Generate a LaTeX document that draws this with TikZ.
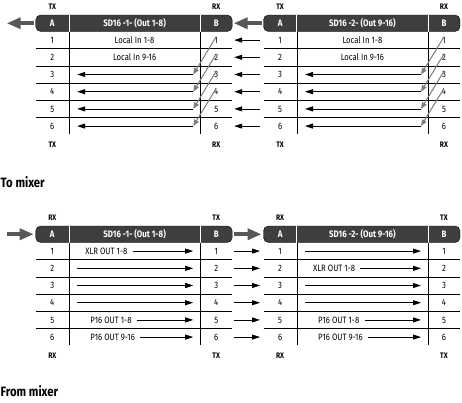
\documentclass[tikz,border=0pt]{standalone}
\usepackage{fontspec}
\setmainfont{Fira Sans}[FakeStretch=0.84]
\usetikzlibrary{arrows.meta}
\tikzstyle{sheet} = [x = 1pt, y = -1pt]
\definecolor{headColor}{RGB}{62,62,62}
\definecolor{bigArrowColor}{RGB}{88,88,88}
\definecolor{patchColor}{RGB}{125,125,125}
\tikzstyle{headStyle} = [fill=headColor, rounded corners = 5pt]
\tikzstyle{headLine} = [color=white, line width=0.8pt]
\tikzstyle{headText} = [text=white, font=\fontsize{9.4}{11}\selectfont\bfseries, inner sep=0pt, text height=6.5pt, text depth=0pt]
\tikzstyle{cellText} = [font=\fontsize{9.2}{11}\selectfont, inner sep=0pt, text height=6.3pt, text depth=0pt]
\tikzstyle{sideText} = [font=\fontsize{8}{9}\selectfont\bfseries, inner sep=0pt, text height=5.5pt, text depth=0pt]
\tikzstyle{gridLine} = [color=black, line width=0.6pt]
\tikzstyle{rowArrow} = [line width=0.8pt, -{Triangle[length=8pt, width=5pt]}]
\tikzstyle{patchArrow} = [color=patchColor, line width=1pt, -{Triangle[length=6.5pt, width=5pt]}]
\tikzstyle{bigArrow} = [color=bigArrowColor, line width=4pt, -{Triangle[length=14pt, width=11pt]}]
\tikzstyle{sectionTitle} = [font=\fontsize{13.5}{15}\selectfont\bfseries, anchor=base west, inner sep=0pt]
\newcommand{\sdTable}[6]{
  \filldraw [headStyle] (#2, #3) rectangle + (196.5, 16.5);
  \draw [headLine] (#2 + 33.3, #3) -- + (0, 16.5);
  \draw [headLine] (#2 + 164.5, #3) -- + (0, 16.5);
  \node [headText] (#1-a) at (#2 + 16.6, #3 + 8.25) {A};
  \node [headText] (#1-title) at (#2 + 98.9, #3 + 8.25) {#4};
  \node [headText] (#1-b) at (#2 + 180.5, #3 + 8.25) {B};
  \coordinate (#1-hw) at (#2 - 2, #3 + 8.25);
  \coordinate (#1-hfar) at (#2 - 29, #3 + 8.25);
  \coordinate (#1-he) at (#2 + 198, #3 + 8.25);
  \draw [gridLine] (#2 + 33.3, #3 + 16.5) -- + (0, 102);
  \draw [gridLine] (#2 + 164.5, #3 + 16.5) -- + (0, 102);
  \foreach \row in {1,...,5} {
    \draw [gridLine] (#2, #3 + 16.5 + 17.2 * \row) -- + (196.5, 0);
  }
  \foreach \row in {1,...,6} {
    \pgfmathsetmacro{\rowMid}{#3 + 7.9 + 17.2 * \row}
    \node [cellText] (#1-l\row) at (#2 + 16.6, \rowMid) {\row};
    \node [cellText] (#1-r\row) at (#2 + 180.5, \rowMid) {\row};
    \coordinate (#1-in\row) at (#2 + 41.5, \rowMid);
    \coordinate (#1-out\row) at (#2 + 157.5, \rowMid);
    \coordinate (#1-mid\row) at (#2 + 98.9, \rowMid);
    \coordinate (#1-txt\row) at (#2 + 49.5, \rowMid);
    \coordinate (#1-w\row) at (#2 - 3.5, \rowMid);
    \coordinate (#1-e\row) at (#2 + 198.5, \rowMid);
  }
  \node [sideText] (#1-tl) at (#2 + 16.6, #3 - 8) {#5};
  \node [sideText] (#1-tr) at (#2 + 180.5, #3 - 8) {#6};
  \node [sideText] (#1-bl) at (#2 + 16.6, #3 + 129.5) {#5};
  \node [sideText] (#1-br) at (#2 + 180.5, #3 + 129.5) {#6};
}
\newcommand{\localRows}[1]{
  \node [cellText] (#1-local1) at (#1-mid1) {Local In 1-8};
  \node [cellText] (#1-local2) at (#1-mid2) {Local In 9-16};
}
\newcommand{\patchArrows}[1]{
  \foreach \row [evaluate=\row as \target using int(\row + 2)] in {1,...,4} {
    \draw [patchArrow] (#1-r\row.north) -- (#1-out\target);
  }
}
\newcommand{\mixRow}[4]{
  \node [cellText, anchor=west] (#1-mix#2) at ([xshift=#4]#1-txt#2) {#3};
  \draw [rowArrow] ([xshift=5pt]#1-mix#2.east) -- (#1-out#2);
}

\begin{document}
\begin{tikzpicture}[sheet]
  \useasboundingbox (0, 0) rectangle (462, 402);
  % to mixer
  \sdTable{outOne}{35.7}{15}{SD16 -1- (Out 1-8)}{TX}{RX}
  \sdTable{outTwo}{263.5}{15}{SD16 -2- (Out 9-16)}{TX}{RX}
  \localRows{outOne}
  \localRows{outTwo}
  \foreach \row in {3,...,6} {
    \draw [rowArrow] (outOne-out\row) -- (outOne-in\row);
    \draw [rowArrow] (outTwo-out\row) -- (outTwo-in\row);
  }
  \patchArrows{outOne}
  \patchArrows{outTwo}
  \foreach \row in {1,...,6} {
    \draw [rowArrow] (outTwo-w\row) -- (outOne-e\row);
  }
  \draw [bigArrow] (outOne-hw) -- (outOne-hfar);
  \draw [bigArrow] (outTwo-hw) -- (outOne-he);
  \node [sectionTitle] (toMixer) at (0.5, 187.3) {To mixer};

  % from mixer
  \sdTable{inOne}{35.7}{226}{SD16 -1- (Out 1-8)}{RX}{TX}
  \sdTable{inTwo}{263.5}{226}{SD16 -2- (Out 9-16)}{RX}{TX}
  \mixRow{inOne}{1}{XLR OUT 1-8}{0pt}
  \mixRow{inOne}{5}{P16 OUT 1-8}{5pt}
  \mixRow{inOne}{6}{P16 OUT 9-16}{5pt}
  \mixRow{inTwo}{2}{XLR OUT 1-8}{0pt}
  \mixRow{inTwo}{5}{P16 OUT 1-8}{5pt}
  \mixRow{inTwo}{6}{P16 OUT 9-16}{5pt}
  \foreach \row in {2,3,4} {
    \draw [rowArrow] (inOne-in\row) -- (inOne-out\row);
  }
  \foreach \row in {1,3,4} {
    \draw [rowArrow] (inTwo-in\row) -- (inTwo-out\row);
  }
  \foreach \row in {1,...,6} {
    \draw [rowArrow] (inOne-e\row) -- (inTwo-w\row);
  }
  \draw [bigArrow] (inOne-hfar) -- (inOne-hw);
  \draw [bigArrow] (inOne-he) -- (inTwo-hw);
  \node [sectionTitle] (fromMixer) at (0.5, 396.7) {From mixer};
\end{tikzpicture}
\end{document}
